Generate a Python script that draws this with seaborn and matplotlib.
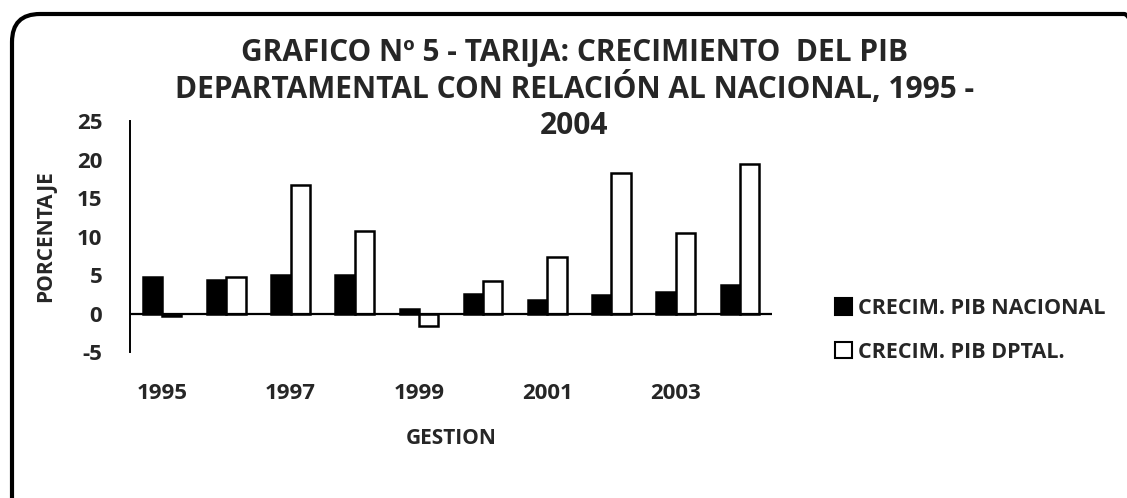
import matplotlib
matplotlib.use("Agg")
import matplotlib.pyplot as plt
import matplotlib.transforms as mtransforms
from matplotlib.patches import FancyBboxPatch, Rectangle
import pandas as pd
import seaborn as sns


sns.set(style="white")
plt.rcParams['font.family'] = ['Open Sans', 'DejaVu Sans']
plt.rcParams['font.weight'] = 'bold'

years = [1995, 1996, 1997, 1998, 1999, 2000, 2001, 2002, 2003, 2004]
pib_nacional = [4.7, 4.4, 5.0, 5.0, 0.6, 2.5, 1.8, 2.4, 2.8, 3.7]
pib_dptal = [-0.3, 4.7, 16.7, 10.7, -1.6, 4.2, 7.3, 18.3, 10.5, 19.4]
series_names = ["CRECIM. PIB NACIONAL", "CRECIM. PIB DPTAL."]
y_ticks = [-5, 0, 5, 10, 15, 20, 25]
x_tick_years = [1995, 1997, 1999, 2001, 2003]

df = pd.DataFrame({
    "GESTION": years * 2,
    "Serie": [series_names[0]] * len(years) + [series_names[1]] * len(years),
    "Valor": pib_nacional + pib_dptal,
})

W, H = 1127, 498
fig = plt.figure(figsize=(W / 100, H / 100), dpi=100)
fig.patch.set_facecolor("white")
ax = fig.add_axes([130 / W, 1 - 352 / H, 642 / W, 231 / H])

sns.barplot(data=df, x="GESTION", y="Valor", hue="Serie", order=years,
            hue_order=series_names, palette=["black", "white"],
            width=0.6, edgecolor="black", linewidth=1.8, saturation=1,
            legend=False, ax=ax)

ax.set_xlim(-0.5, len(years) - 0.5)
ax.set_ylim(-5, 25)
ax.set_yticks(y_ticks)
ax.set_yticklabels([str(t) for t in y_ticks])
ax.set_xticks([years.index(y) for y in x_tick_years])
ax.set_xticklabels([str(y) for y in x_tick_years])
ax.tick_params(axis="y", length=0, pad=20, labelsize=16)
ax.tick_params(axis="x", length=0, pad=22.5, labelsize=16)
ax.axhline(0, color="black", lw=1.6, zorder=5)

for side in ["top", "right", "bottom"]:
    ax.spines[side].set_visible(False)
ax.spines["left"].set_color("black")
ax.spines["left"].set_linewidth(1.4)

ax.set_xlabel("GESTION", fontsize=15, fontweight="bold", labelpad=17)
ax.set_ylabel("PORCENTAJE", fontsize=15, fontweight="bold", labelpad=15)

# title, drawn as three wrapped lines like the original
title_size = 21.5
fig.text(575 / W, 1 - 53 / H, "GRAFICO Nº 5 - TARIJA: CRECIMIENTO  DEL PIB",
         ha="center", va="center", fontsize=title_size, fontweight="bold")
fig.text(575 / W, 1 - 89 / H, "DEPARTAMENTAL CON RELACIÓN AL NACIONAL, 1995 -",
         ha="center", va="center", fontsize=title_size, fontweight="bold")
fig.text(574 / W, 1 - 126 / H, "2004",
         ha="center", va="center", fontsize=title_size, fontweight="bold")

handles = [Rectangle((0, 0), 1, 1, facecolor="black", edgecolor="black", lw=1.5),
           Rectangle((0, 0), 1, 1, facecolor="white", edgecolor="black", lw=1.5)]
fig.legend(handles, series_names, loc="upper left",
           bbox_to_anchor=(835 / W, 1 - 298 / H), frameon=False,
           handlelength=0.8, handleheight=0.8, handletextpad=0.25,
           labelspacing=1.05, borderpad=0, borderaxespad=0,
           prop={"size": 15.5, "weight": "bold"})

# rounded chart border, clipped at right and bottom as in the source image
border = FancyBboxPatch((12, -30), 1140, H - 14 + 30,
                        boxstyle="round,pad=0,rounding_size=28",
                        facecolor="none", edgecolor="black", lw=3,
                        transform=mtransforms.IdentityTransform())
fig.add_artist(border)

fig.savefig("out.png", dpi=100, facecolor="white")
